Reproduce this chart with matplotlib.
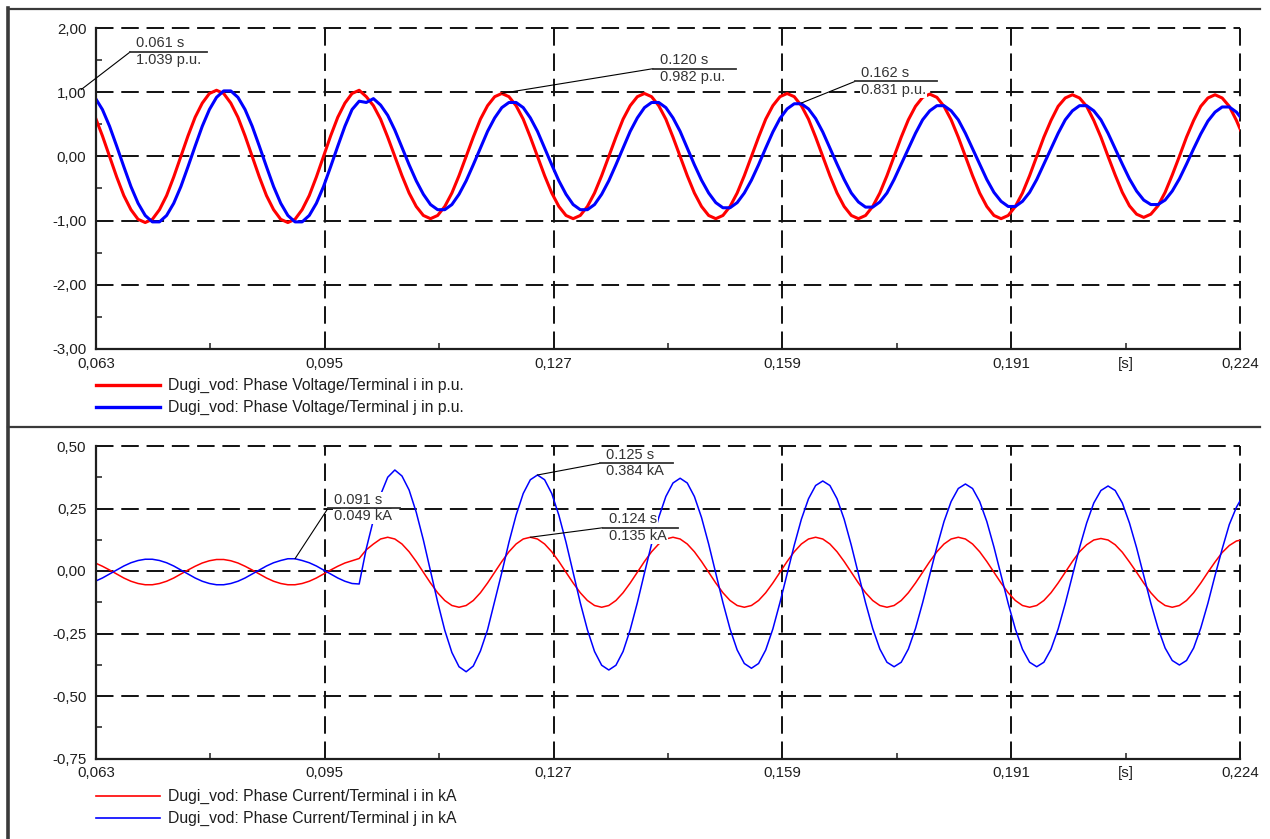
import numpy as np
import matplotlib.pyplot as plt
from matplotlib.lines import Line2D

plt.rcParams['font.family'] = ['Liberation Sans', 'DejaVu Sans']

# exported simulation curves, one sample per ms (0.063 s ... 0.224 s)
t = np.arange(63, 225) / 1000.0

# Dugi_vod: phase voltage, terminal i / j [p.u.]
v_i = [0.61, 0.32, 0.00, -0.32, -0.61, -0.83, -0.98, -1.03, -0.98, -0.83,
       -0.61, -0.32, 0.00, 0.32, 0.61, 0.83, 0.98, 1.03, 0.98, 0.83,
       0.61, 0.32, 0.00, -0.32, -0.61, -0.83, -0.98, -1.03, -0.98, -0.83,
       -0.61, -0.32, 0.00, 0.32, 0.61, 0.83, 0.98, 1.03, 0.93, 0.79,
       0.58, 0.30, 0.00, -0.30, -0.57, -0.78, -0.92, -0.97, -0.92, -0.78,
       -0.57, -0.30, 0.00, 0.30, 0.58, 0.79, 0.93, 0.98, 0.93, 0.79,
       0.58, 0.30, 0.00, -0.30, -0.57, -0.78, -0.92, -0.97, -0.92, -0.78,
       -0.57, -0.30, 0.00, 0.30, 0.58, 0.79, 0.93, 0.98, 0.93, 0.79,
       0.58, 0.30, 0.00, -0.30, -0.57, -0.78, -0.92, -0.97, -0.92, -0.78,
       -0.57, -0.30, 0.00, 0.30, 0.58, 0.79, 0.93, 0.98, 0.93, 0.79,
       0.58, 0.30, 0.00, -0.30, -0.57, -0.78, -0.92, -0.97, -0.92, -0.78,
       -0.57, -0.30, 0.00, 0.30, 0.57, 0.78, 0.92, 0.97, 0.92, 0.78,
       0.57, 0.30, 0.00, -0.30, -0.57, -0.78, -0.92, -0.97, -0.92, -0.78,
       -0.57, -0.30, 0.00, 0.30, 0.56, 0.78, 0.91, 0.96, 0.91, 0.78,
       0.56, 0.30, 0.00, -0.29, -0.56, -0.77, -0.90, -0.95, -0.90, -0.77,
       -0.56, -0.29, 0.00, 0.30, 0.56, 0.78, 0.91, 0.96, 0.91, 0.78,
       0.56, 0.30]
v_j = [0.91, 0.73, 0.47, 0.16, -0.16, -0.47, -0.73, -0.92, -1.02, -1.02,
       -0.92, -0.73, -0.47, -0.16, 0.16, 0.47, 0.73, 0.92, 1.02, 1.02,
       0.92, 0.73, 0.47, 0.16, -0.16, -0.47, -0.73, -0.92, -1.02, -1.02,
       -0.92, -0.73, -0.47, -0.16, 0.16, 0.47, 0.73, 0.86, 0.84, 0.90,
       0.80, 0.64, 0.41, 0.14, -0.13, -0.38, -0.59, -0.75, -0.83, -0.83,
       -0.75, -0.59, -0.38, -0.13, 0.13, 0.39, 0.60, 0.76, 0.84, 0.84,
       0.76, 0.60, 0.39, 0.13, -0.13, -0.38, -0.59, -0.75, -0.83, -0.83,
       -0.75, -0.59, -0.38, -0.13, 0.13, 0.39, 0.60, 0.76, 0.84, 0.84,
       0.76, 0.60, 0.39, 0.13, -0.13, -0.37, -0.57, -0.72, -0.80, -0.80,
       -0.72, -0.57, -0.37, -0.13, 0.13, 0.38, 0.59, 0.74, 0.82, 0.82,
       0.74, 0.59, 0.38, 0.13, -0.12, -0.36, -0.57, -0.71, -0.79, -0.79,
       -0.71, -0.57, -0.36, -0.12, 0.12, 0.36, 0.57, 0.71, 0.79, 0.79,
       0.71, 0.57, 0.36, 0.12, -0.12, -0.36, -0.56, -0.70, -0.78, -0.78,
       -0.70, -0.56, -0.36, -0.12, 0.12, 0.36, 0.57, 0.71, 0.79, 0.79,
       0.71, 0.57, 0.36, 0.12, -0.12, -0.35, -0.54, -0.68, -0.75, -0.75,
       -0.68, -0.54, -0.35, -0.12, 0.12, 0.35, 0.55, 0.69, 0.77, 0.77,
       0.69, 0.55]

# Dugi_vod: phase current, terminal i / j [kA]
i_i = [0.032, 0.019, 0.004, -0.012, -0.028, -0.041, -0.050, -0.055, -0.055, -0.050,
       -0.041, -0.028, -0.012, 0.004, 0.019, 0.032, 0.041, 0.046, 0.046, 0.041,
       0.032, 0.019, 0.004, -0.012, -0.028, -0.041, -0.050, -0.055, -0.055, -0.050,
       -0.041, -0.028, -0.012, 0.004, 0.019, 0.032, 0.041, 0.050, 0.085, 0.108,
       0.128, 0.135, 0.128, 0.108, 0.077, 0.038, -0.005, -0.048, -0.087, -0.118,
       -0.138, -0.145, -0.138, -0.118, -0.087, -0.048, -0.005, 0.038, 0.077, 0.108,
       0.128, 0.135, 0.128, 0.108, 0.077, 0.038, -0.005, -0.048, -0.087, -0.118,
       -0.138, -0.145, -0.138, -0.118, -0.087, -0.048, -0.005, 0.038, 0.077, 0.108,
       0.128, 0.135, 0.128, 0.108, 0.077, 0.038, -0.005, -0.048, -0.087, -0.118,
       -0.138, -0.145, -0.138, -0.118, -0.087, -0.048, -0.005, 0.038, 0.077, 0.108,
       0.128, 0.135, 0.128, 0.108, 0.077, 0.038, -0.005, -0.048, -0.087, -0.118,
       -0.138, -0.145, -0.138, -0.118, -0.087, -0.048, -0.005, 0.038, 0.077, 0.108,
       0.128, 0.135, 0.128, 0.108, 0.077, 0.038, -0.005, -0.048, -0.087, -0.118,
       -0.138, -0.145, -0.138, -0.118, -0.087, -0.048, -0.005, 0.038, 0.077, 0.105,
       0.124, 0.130, 0.124, 0.105, 0.075, 0.036, -0.005, -0.048, -0.087, -0.118,
       -0.138, -0.145, -0.138, -0.118, -0.087, -0.048, -0.005, 0.036, 0.074, 0.102,
       0.120, 0.126]
i_j = [-0.041, -0.028, -0.012, 0.004, 0.020, 0.033, 0.042, 0.047, 0.047, 0.042,
       0.033, 0.020, 0.004, -0.012, -0.028, -0.041, -0.050, -0.055, -0.055, -0.050,
       -0.041, -0.028, -0.012, 0.004, 0.020, 0.033, 0.042, 0.049, 0.049, 0.042,
       0.033, 0.020, 0.004, -0.012, -0.028, -0.041, -0.050, -0.052, 0.090, 0.205,
       0.305, 0.375, 0.404, 0.380, 0.324, 0.235, 0.124, 0.000, -0.124, -0.237,
       -0.326, -0.383, -0.403, -0.380, -0.320, -0.235, -0.120, -0.006, 0.115, 0.223,
       0.310, 0.365, 0.384, 0.365, 0.310, 0.223, 0.115, -0.006, -0.127, -0.235,
       -0.322, -0.377, -0.396, -0.377, -0.322, -0.235, -0.127, -0.008, 0.108, 0.214,
       0.298, 0.352, 0.371, 0.352, 0.298, 0.214, 0.108, -0.009, -0.126, -0.232,
       -0.316, -0.370, -0.389, -0.370, -0.316, -0.232, -0.126, -0.011, 0.103, 0.207,
       0.289, 0.342, 0.360, 0.342, 0.289, 0.207, 0.103, -0.012, -0.127, -0.230,
       -0.312, -0.365, -0.383, -0.365, -0.312, -0.230, -0.127, -0.015, 0.096, 0.198,
       0.278, 0.330, 0.348, 0.330, 0.278, 0.198, 0.096, -0.017, -0.130, -0.232,
       -0.313, -0.365, -0.383, -0.365, -0.313, -0.232, -0.130, -0.018, 0.093, 0.192,
       0.272, 0.322, 0.340, 0.322, 0.272, 0.192, 0.093, -0.018, -0.129, -0.228,
       -0.308, -0.358, -0.376, -0.358, -0.308, -0.228, -0.129, -0.018, 0.088, 0.186,
       0.255, 0.305]

x_labels = ['0,063', '0,095', '0,127', '0,159', '0,191', '0,224']
v_ticks = [-3.0, -2.0, -1.0, 0.0, 1.0, 2.0]
i_ticks = [-0.75, -0.50, -0.25, 0.0, 0.25, 0.50]
v_names = ['Dugi_vod: Phase Voltage/Terminal i in p.u.',
           'Dugi_vod: Phase Voltage/Terminal j in p.u.']
i_names = ['Dugi_vod: Phase Current/Terminal i in kA',
           'Dugi_vod: Phase Current/Terminal j in kA']

# cursor labels: (time, value, unit, label anchor time, anchor value, underline length)
v_cursors = [(0.061, 1.039, 'p.u.', 0.0679, 1.628, 0.0108),
             (0.120, 0.982, 'p.u.', 0.14124, 1.367, 0.0116),
             (0.162, 0.831, 'p.u.', 0.16952, 1.168, 0.0115)]
i_cursors = [(0.091, 0.049, 'kA', 0.09563, 0.251, 0.0101),
             (0.125, 0.384, 'kA', 0.13377, 0.431, 0.0103),
             (0.124, 0.135, 'kA', 0.13415, 0.173, 0.0106)]

x_lo, x_hi = 0.0631, 0.2235
W, H = 1270, 839
ink = '#1e1e1e'

fig = plt.figure(figsize=(W / 100, H / 100), dpi=100)
fig.patch.set_facecolor('white')
ax1 = fig.add_axes([96 / W, 1 - 349 / H, 1144 / W, 321 / H])
ax2 = fig.add_axes([96 / W, 1 - 758.5 / H, 1144 / W, 312.5 / H])


def style_axes(ax, yticks):
    xt = np.linspace(x_lo, x_hi, 6)
    ax.set_xlim(x_lo, x_hi)
    ax.set_ylim(yticks[0], yticks[-1])
    ax.set_xticks(xt, x_labels)
    ax.set_xticks((xt[:-1] + xt[1:]) / 2, ['', '', '', '', '[s]'], minor=True)
    ax.set_yticks(yticks, [f'{v:.2f}'.replace('.', ',') for v in yticks])
    yt = np.array(yticks)
    ax.set_yticks((yt[:-1] + yt[1:]) / 2, minor=True)
    ax.tick_params(which='major', length=0, labelsize=10.8, labelcolor=ink)
    ax.tick_params(which='minor', direction='in', length=4, width=1.1,
                   labelsize=10.8, labelcolor=ink, color=ink)
    ax.tick_params(axis='x', which='both', pad=5.5)
    ax.tick_params(axis='y', which='both', pad=7)
    for s in ['top', 'right']:
        ax.spines[s].set_visible(False)
    for s in ['left', 'bottom']:
        ax.spines[s].set_linewidth(1.6)
        ax.spines[s].set_color(ink)
    ax.grid(True, which='major', color='#111111', linestyle=(0, (9, 4)), linewidth=1.4)
    for gl in ax.get_xgridlines() + ax.get_ygridlines():
        gl.set_clip_on(False)


def cursor_labels(ax, cursors):
    for tc, vc, unit, xa, ya, w in cursors:
        ax.annotate('', xy=(tc, vc), xytext=(xa, ya), annotation_clip=False,
                    arrowprops=dict(arrowstyle='-', lw=0.8, color='black',
                                    shrinkA=0, shrinkB=0), zorder=5)
        ax.plot([xa, xa + w], [ya, ya], color='#333333', lw=1.3,
                clip_on=False, zorder=6)
        box = dict(facecolor='white', edgecolor='none', pad=0.6)
        ax.annotate(f'{tc:.3f} s', xy=(xa, ya), xytext=(4.5, 3.2),
                    textcoords='offset points', ha='left', va='baseline',
                    fontsize=10.5, color='#333333', bbox=box, zorder=4)
        ax.annotate(f'{vc:.3f} {unit}', xy=(xa, ya), xytext=(4.5, -8.8),
                    textcoords='offset points', ha='left', va='baseline',
                    fontsize=10.5, color='#333333', bbox=box, zorder=4)


def legend_rows(names, colors, lw, ys):
    for name, c, y in zip(names, colors, ys):
        fig.add_artist(Line2D([96 / W, 160 / W], [1 - y / H, 1 - y / H],
                              transform=fig.transFigure, color=c, lw=lw))
        fig.text(168 / W, 1 - y / H, name, ha='left', va='center',
                 fontsize=11.3, color=ink)


style_axes(ax1, v_ticks)
style_axes(ax2, i_ticks)

ax1.plot(t, v_i, color='#ff0000', lw=2.2)
ax1.plot(t, v_j, color='#0000ff', lw=2.2)
ax2.plot(t, i_i, color='#ff0000', lw=1.1)
ax2.plot(t, i_j, color='#0000ff', lw=1.1)

cursor_labels(ax1, v_cursors)
cursor_labels(ax2, i_cursors)

legend_rows(v_names, ['#ff0000', '#0000ff'], 2.4, [385, 407])
legend_rows(i_names, ['#ff0000', '#0000ff'], 1.2, [796, 818])

# page frame of the plot window
frame = '#3a3a3a'
fig.add_artist(Line2D([7.5 / W, 7.5 / W], [0, 1 - 7.5 / H], transform=fig.transFigure,
                      color=frame, lw=2.6))
fig.add_artist(Line2D([7.5 / W, 1260 / W], [1 - 8.5 / H, 1 - 8.5 / H],
                      transform=fig.transFigure, color=frame, lw=1.6))
fig.add_artist(Line2D([7.5 / W, 1260 / W], [1 - 426.5 / H, 1 - 426.5 / H],
                      transform=fig.transFigure, color=frame, lw=1.6))

fig.savefig('out.png', dpi=100)
